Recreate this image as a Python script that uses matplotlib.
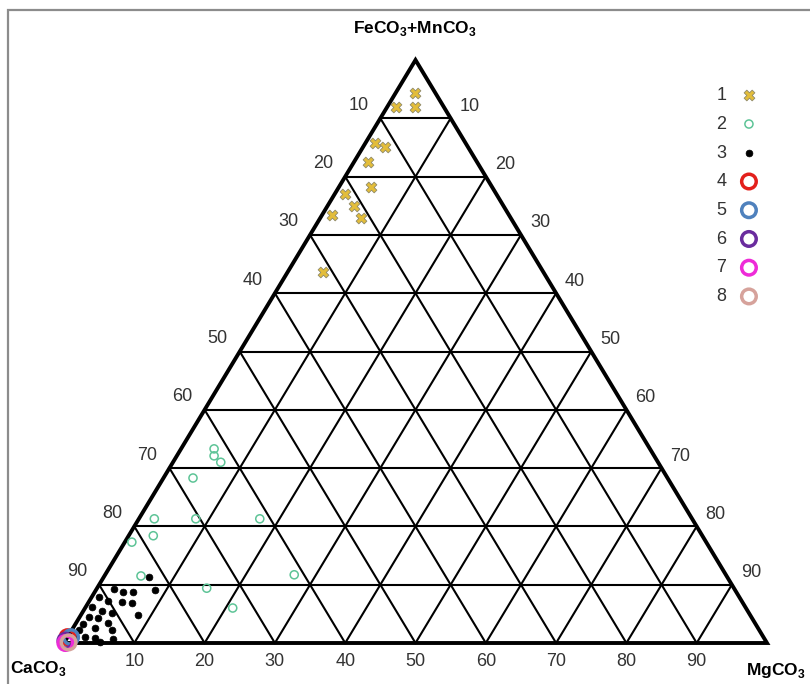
import matplotlib
matplotlib.use("Agg")
import matplotlib.pyplot as plt
from matplotlib.patches import Rectangle
import numpy as np

plt.rcParams['font.family'] = ['Liberation Sans', 'DejaVu Sans']
plt.rcParams['mathtext.fontset'] = 'custom'
plt.rcParams['mathtext.rm'] = 'Liberation Sans'
plt.rcParams['mathtext.bf'] = 'Liberation Sans:bold'

# ---- data: (MgCO3 %, FeCO3+MnCO3 %); CaCO3 = remainder ----
g1_mg = [2.8, 1.3, 4.0, 1.3, 3.1, 2.0, 4.6, 1.5, 3.8, 1.4, 5.8, 5.0]
g1_fe = [94.3, 91.9, 91.9, 85.8, 85.1, 82.5, 78.2, 77.0, 75.0, 73.4, 72.9, 63.6]

g2_mg = [4.7, 5.3, 6.8, 4.2, 2.2, 8.1, 17.2, 1.0, 3.5, 5.2, 26.9, 15.6, 21.0]
g2_fe = [33.3, 32.1, 31.0, 28.3, 21.3, 21.3, 21.3, 17.3, 18.4, 11.5, 11.7, 9.4, 6.0]

g3_mg = [6.4, 2.5, 4.0, 5.4, 8.4, 1.0, 2.7, 4.7, 6.2, 0.9, 2.7, 4.3, 8.1,
         1.3, 2.7, 4.5, 1.1, 3.1, 5.7, 1.0, 2.5, 4.0, 6.6, 5.0, 1.1]
g3_fe = [11.3, 9.3, 8.7, 8.7, 9.1, 7.9, 7.2, 7.0, 6.9, 6.2, 5.5, 5.1, 4.8,
         4.5, 4.3, 3.4, 3.3, 2.6, 2.2, 2.2, 1.0, 0.9, 0.7, 0.2, 0.9]

g4_mg, g4_fe = [0.0], [1.0]
g5_mg, g5_fe = [0.5], [1.0]
g6_mg, g6_fe = [0.0], [0.4]
g7_mg, g7_fe = [0.2], [0.0]
g8_mg, g8_fe = [0.6], [0.1]

legend_labels = ['1', '2', '3', '4', '5', '6', '7', '8']
tick_values = [10, 20, 30, 40, 50, 60, 70, 80, 90]
apex_label = r"FeCO$_\mathbf{3}$+MnCO$_\mathbf{3}$"
left_label = r"CaCO$_\mathbf{3}$"
right_label = r"MgCO$_\mathbf{3}$"


def tern(mg, fe):
    mg = np.asarray(mg, float)
    fe = np.asarray(fe, float)
    return mg + fe / 2.0, fe


W, H = 810, 684
fig = plt.figure(figsize=(W / 100, H / 100), dpi=100)
ax = fig.add_axes([64 / W, 41 / H, 703 / W, 583 / H])
ax.set_xlim(0, 100)
ax.set_ylim(0, 100)
ax.axis('off')

# outer frame (grey), partly cropped
fig.patches.append(Rectangle((8 / W, -0.2), 1.2, (H - 10) / H + 0.2,
                             transform=fig.transFigure, fill=False,
                             edgecolor='#8c8c8c', lw=1.6, zorder=0))

# grid lines
for v in tick_values:
    x, y = tern([0, 100 - v], [v, v])
    ax.plot(x, y, color='black', lw=1.5, zorder=1, clip_on=False)
    x, y = tern([v, v], [0, 100 - v])
    ax.plot(x, y, color='black', lw=1.5, zorder=1, clip_on=False)
    x, y = tern([100 - v, 0], [0, 100 - v])
    ax.plot(x, y, color='black', lw=1.5, zorder=1, clip_on=False)

# outer triangle
x, y = tern([0, 100, 0, 0], [0, 0, 100, 0])
ax.plot(x, y, color='black', lw=2.8, zorder=2, clip_on=False,
        solid_joinstyle='miter')

# data points
handles = []
x, y = tern(g1_mg, g1_fe)
handles.append(ax.scatter(x, y, marker='X', s=60, facecolor='#E3BD3A',
                          edgecolor='#8f8a6a', lw=0.6, zorder=5, clip_on=False))
x, y = tern(g2_mg, g2_fe)
handles.append(ax.scatter(x, y, marker='o', s=34, facecolor='none',
                          edgecolor='#5EC497', lw=1.1, zorder=5, clip_on=False))
x, y = tern(g3_mg, g3_fe)
handles.append(ax.scatter(x, y, marker='o', s=24, facecolor='black',
                          edgecolor='black', lw=0.5, zorder=5, clip_on=False))
ring_cols = ['#E3201C', '#4F81BD', '#6A2C9E', '#EE2BD8', '#D6A29B']
ring_data = [(g4_mg, g4_fe), (g5_mg, g5_fe), (g6_mg, g6_fe),
             (g7_mg, g7_fe), (g8_mg, g8_fe)]
for c, (m, f) in zip(ring_cols, ring_data):
    x, y = tern(m, f)
    handles.append(ax.scatter(x, y, marker='o', s=110, facecolor='none',
                              edgecolor=c, lw=2.5, zorder=6, clip_on=False))

# tick labels (10 at the apex end of both sides, 10..90 left-to-right at the base)
fs = 13
tc = '#333333'
for v in tick_values:
    fe = 100 - v
    x, y = tern([0], [fe])
    ax.annotate(str(v), (x[0], y[0]), xytext=(-22, 13), textcoords='offset pixels',
                ha='center', va='center', fontsize=fs, color=tc)
    x, y = tern([v], [fe])
    ax.annotate(str(v), (x[0], y[0]), xytext=(19, 12), textcoords='offset pixels',
                ha='center', va='center', fontsize=fs, color=tc)
    x, y = tern([v], [0])
    ax.annotate(str(v), (x[0], y[0]), xytext=(0, -19), textcoords='offset pixels',
                ha='center', va='center', fontsize=fs, color=tc)

# corner labels
fig.text(415 / W, 1 - 28 / H, apex_label, ha='center', va='center',
         fontsize=12.5, fontweight='bold')
fig.text(10 / W, 1 - 668 / H, left_label, ha='left', va='center',
         fontsize=12.5, fontweight='bold')
fig.text(746 / W, 1 - 670 / H, right_label, ha='left', va='center',
         fontsize=12.5, fontweight='bold')

# legend
leg = fig.legend(handles, legend_labels, loc='upper right',
                 bbox_to_anchor=(767 / W, 1 - 78 / H),
                 bbox_transform=fig.transFigure, frameon=False,
                 markerfirst=False, fontsize=13, labelspacing=0.65,
                 handletextpad=0.75, handlelength=1.0, borderpad=0.0,
                 scatterpoints=1)
for t in leg.get_texts():
    t.set_color(tc)

fig.savefig('out.png', dpi=100)
